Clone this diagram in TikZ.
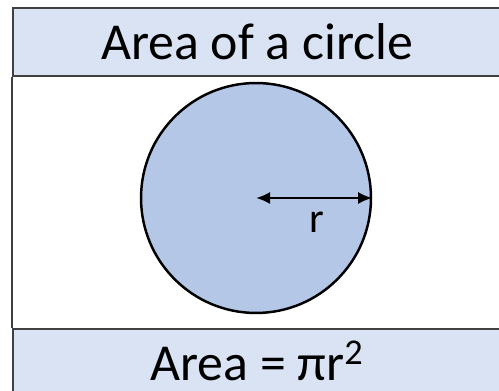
\documentclass[tikz,border=0pt]{standalone}
\usepackage{fontspec}
\setmainfont{Carlito}
\usetikzlibrary{arrows.meta}
\definecolor{bandblue}{HTML}{DAE3F3}
\definecolor{discblue}{HTML}{B4C7E7}
\definecolor{framegrey}{HTML}{404040}
\tikzset{
  band/.style  = {rectangle, draw=framegrey, fill=bandblue, line width=1.2pt,
                  anchor=north west, inner sep=0pt},
  disc/.style  = {circle, draw=black, fill=discblue, line width=1.4pt,
                  minimum size=4.6cm, inner sep=0pt},
  head/.style  = {anchor=base, font=\fontsize{29.5}{32}\selectfont},
  formula/.style = {anchor=base, font=\fontsize{29.5}{32}\selectfont},
  radius/.style  = {{Latex[length=2.8mm, width=2.4mm]}-{Latex[length=2.8mm, width=2.4mm]}, line width=1.2pt},
}
\begin{document}
\begin{tikzpicture}[x=0.02cm, y=-0.02cm]
      \useasboundingbox (0,0) rectangle (499,391);
      \node[band, minimum width=10cm, minimum height=1.36cm] (topband) at (12,7) {};
      \node[band, minimum width=10cm, minimum height=1.6cm]  (botband) at (12,328) {};
      \draw[framegrey, line width=1.2pt] (topband.south west) -- (botband.north west);

      \node[head]    (title) at (257,60)  {Area of a circle};
      \node[formula] (area)  at (257,380) {Area = πr\textsuperscript{2}};

      \node[disc] (circ) at (256,198) {};
      \coordinate (centre) at (circ.center);
      \draw[radius] (centre) -- (circ.east);
      \node[anchor=base, font=\fontsize{24}{26}\selectfont] (rlabel) at (317,232) {r};
    \end{tikzpicture}
\end{document}
